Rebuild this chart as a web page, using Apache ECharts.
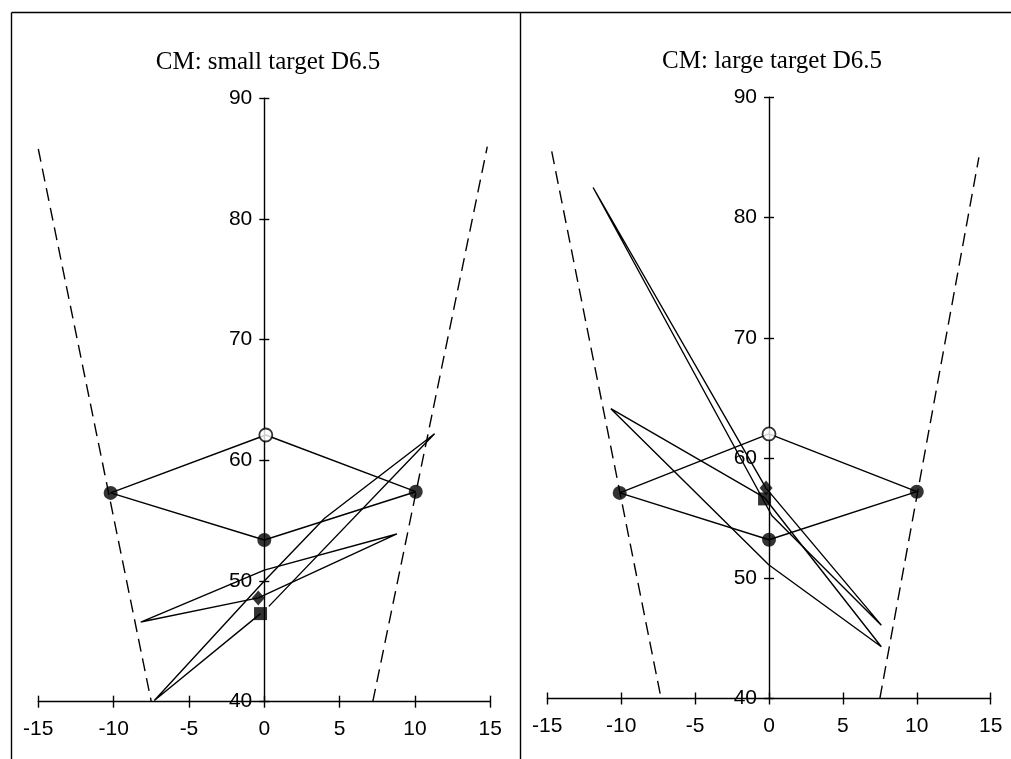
<!DOCTYPE html>
<html><head><meta charset="utf-8">
<script src="https://cdn.jsdelivr.net/npm/echarts@6/dist/echarts.min.js"></script>
<style>html,body{margin:0;padding:0;background:#fff}#c{width:1011px;height:759px}</style>
</head><body><div id="c"></div>
<script>
// ---- tick labels & titles ----
const xTickLabels = [-15, -10, -5, 0, 5, 10, 15];
const yTickLabels = [40, 50, 60, 70, 80, 90];
const panelTitles = ['CM: small target D6.5', 'CM: large target D6.5'];

// ---- small target panel ----
const smallBoundaryLeft  = [[-15.0, 85.8], [-7.5, 40.0]];
const smallBoundaryRight = [[7.2, 40.0], [14.8, 86.0]];
const smallTargetLoop    = [[0.1, 62.1], [-10.2, 57.3], [0.0, 53.4], [10.05, 57.4], [0.1, 62.1]];
const smallStartPoint    = [[0.1, 62.1]];
const smallTargetPoints  = [[-10.2, 57.3], [0.0, 53.4], [10.05, 57.4]];
const smallTraceDiamond  = [[-0.4, 48.6], [-8.2, 46.6], [0.0, 50.9], [8.8, 53.9], [-0.4, 48.6]];
const smallTraceSquare   = [[-0.25, 47.3], [-7.3, 40.1], [0.0, 50.0], [4.0, 55.2], [11.3, 62.2], [0.3, 47.9]];
const smallDiamondPoint  = [[-0.4, 48.6]];
const smallSquarePoint   = [[-0.25, 47.3]];

// ---- large target panel ----
const largeBoundaryLeft  = [[-14.7, 85.5], [-7.3, 40.0]];
const largeBoundaryRight = [[7.5, 40.0], [14.2, 85.0]];
const largeTargetLoop    = [[0.0, 62.0], [-10.1, 57.1], [0.0, 53.2], [10.0, 57.2], [0.0, 62.0]];
const largeStartPoint    = [[0.0, 62.0]];
const largeTargetPoints  = [[-10.1, 57.1], [0.0, 53.2], [10.0, 57.2]];
const largeTraceDiamond  = [[-0.2, 57.5], [-11.9, 82.5], [0.2, 55.2], [7.6, 46.1], [-0.2, 57.5]];
const largeTraceSquare   = [[-0.3, 56.7], [-10.7, 64.1], [0.0, 51.1], [7.6, 44.3], [-0.3, 56.7]];
const largeDiamondPoint  = [[-0.2, 57.5]];
const largeSquarePoint   = [[-0.3, 56.6]];

const BLACK = '#000';
const LW = 1.4;
const LABEL_FONT = 'Liberation Sans';
const GRIDS = [
  { left: 38.3, top: 98.3, width: 452, height: 603.4 },
  { left: 547.3, top: 97.3, width: 443.4, height: 601.2 }
];

function xAxes(gi) {
  const base = {
    type: 'value', gridIndex: gi,
    min: xTickLabels[0], max: xTickLabels[xTickLabels.length - 1],
    interval: xTickLabels[1] - xTickLabels[0],
    splitLine: { show: false }
  };
  return [
    Object.assign({}, base, {
      position: 'bottom',
      axisLine: { show: true, onZero: false, lineStyle: { color: BLACK, width: LW } },
      axisTick: { show: true, inside: false, length: 6, lineStyle: { color: BLACK, width: LW } },
      axisLabel: { show: true, margin: 17, fontSize: 21, fontFamily: LABEL_FONT, color: BLACK }
    }),
    Object.assign({}, base, {
      position: 'top', offset: -GRIDS[gi].height,
      axisLine: { show: false, onZero: false },
      axisTick: { show: true, inside: false, length: 6, lineStyle: { color: BLACK, width: LW } },
      axisLabel: { show: false }
    })
  ];
}
function yAxes(gi) {
  const half = GRIDS[gi].width / 2;
  const base = {
    type: 'value', gridIndex: gi,
    min: yTickLabels[0], max: yTickLabels[yTickLabels.length - 1],
    interval: yTickLabels[1] - yTickLabels[0],
    splitLine: { show: false }
  };
  return [
    Object.assign({}, base, {
      position: 'left', offset: -half,
      axisLine: { show: true, onZero: false, lineStyle: { color: BLACK, width: LW } },
      axisTick: { show: true, inside: false, length: 5, lineStyle: { color: BLACK, width: LW } },
      axisLabel: { show: true, margin: 12, fontSize: 21, fontFamily: LABEL_FONT, color: BLACK }
    }),
    Object.assign({}, base, {
      position: 'right', offset: -half,
      axisLine: { show: false, onZero: false },
      axisTick: { show: true, inside: false, length: 5, lineStyle: { color: BLACK, width: LW } },
      axisLabel: { show: false }
    })
  ];
}

function line(data, gi, dashed) {
  return {
    type: 'line', xAxisIndex: gi * 2, yAxisIndex: gi * 2, data: data,
    symbol: 'none', showSymbol: false, silent: true, animation: false, z: 2,
    lineStyle: { color: BLACK, width: LW, type: dashed ? [13, 7] : 'solid' }
  };
}
function marks(data, gi, symbol, size, filled) {
  return {
    type: 'scatter', xAxisIndex: gi * 2, yAxisIndex: gi * 2, data: data,
    symbol: symbol, symbolSize: size, silent: true, animation: false, z: 5,
    itemStyle: filled ? { color: BLACK } : { color: '#fff', borderColor: BLACK, borderWidth: 1.8 }
  };
}
function panelSeries(gi, p) {
  return [
    line(p.bl, gi, true), line(p.br, gi, true),
    line(p.loop, gi, false),
    line(p.td, gi, false), line(p.ts, gi, false),
    marks(p.targets, gi, 'circle', 14, true),
    marks(p.start, gi, 'circle', 13, false),
    marks(p.diamond, gi, 'diamond', [13, 15], true),
    marks(p.square, gi, 'rect', 13, true)
  ];
}

const chart = echarts.init(document.getElementById('c'), null, { renderer: 'canvas' });
chart.setOption({
  backgroundColor: '#fff',
  animation: false,
  grid: GRIDS.map(g => Object.assign({ containLabel: false }, g)),
  xAxis: xAxes(0).concat(xAxes(1)),
  yAxis: yAxes(0).concat(yAxes(1)),
  series: panelSeries(0, {
    bl: smallBoundaryLeft, br: smallBoundaryRight, loop: smallTargetLoop,
    td: smallTraceDiamond, ts: smallTraceSquare, targets: smallTargetPoints,
    start: smallStartPoint, diamond: smallDiamondPoint, square: smallSquarePoint
  }).concat(panelSeries(1, {
    bl: largeBoundaryLeft, br: largeBoundaryRight, loop: largeTargetLoop,
    td: largeTraceDiamond, ts: largeTraceSquare, targets: largeTargetPoints,
    start: largeStartPoint, diamond: largeDiamondPoint, square: largeSquarePoint
  })),
  graphic: [
    { type: 'line', silent: true, shape: { x1: 11.5, y1: 12.5, x2: 11.5, y2: 759 }, style: { stroke: BLACK, lineWidth: LW } },
    { type: 'line', silent: true, shape: { x1: 11.5, y1: 12.5, x2: 1011, y2: 12.5 }, style: { stroke: BLACK, lineWidth: LW } },
    { type: 'line', silent: true, shape: { x1: 520.5, y1: 12.5, x2: 520.5, y2: 759 }, style: { stroke: BLACK, lineWidth: LW } },
    { type: 'text', silent: true, x: 268, y: 62,
      style: { text: panelTitles[0], fontSize: 25, fontFamily: 'Liberation Serif', fill: BLACK,
               align: 'center', verticalAlign: 'middle', textAlign: 'center', textVerticalAlign: 'middle' } },
    { type: 'text', silent: true, x: 772, y: 61.5,
      style: { text: panelTitles[1], fontSize: 25, fontFamily: 'Liberation Serif', fill: BLACK,
               align: 'center', verticalAlign: 'middle', textAlign: 'center', textVerticalAlign: 'middle' } }
  ]
});
</script>
</body></html>
